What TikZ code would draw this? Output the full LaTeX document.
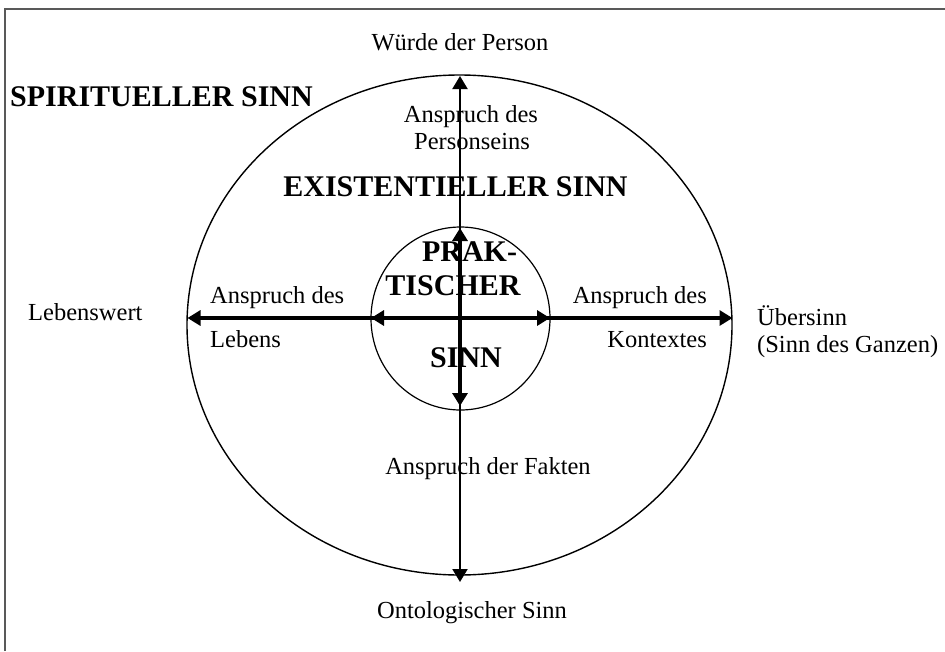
\documentclass[tikz,border=0pt]{standalone}
\usepackage{fontspec}
\setmainfont{Liberation Serif}
\usetikzlibrary{arrows.meta,shapes.geometric}
\begin{document}
\begin{tikzpicture}[x=1pt,y=-1pt,
  lbl/.style={font=\fontsize{24.5}{28}\selectfont, inner sep=0pt},
  big/.style={font=\fontsize{30}{34}\selectfont\bfseries, inner sep=0pt},
  tri/.tip={Triangle[length=13pt,width=15pt]},
  dbl/.style={{tri}-{tri}, line width=#1},
  ring/.style={draw, ellipse, inner sep=0pt, line width=1.4pt}]
\useasboundingbox (0,0) rectangle (945,651);
\draw[black!65, line width=1.3pt] (5,651) -- (5,9) -- (945,9);

\node[ring, minimum width=545pt, minimum height=500pt] (outer) at (459.5,325) {};
\node[ring, minimum width=179pt, minimum height=183pt, line width=1.2pt] (inner) at (460.5,318.5) {};

\coordinate (T) at (460,76);
\coordinate (B) at (460,582);
\coordinate (L) at (187.5,318);
\coordinate (R) at (732.5,318);
\coordinate (iT) at (460,228);
\coordinate (iB) at (460,406);
\coordinate (iL) at (371,318);
\coordinate (iR) at (550,318);

\draw[dbl=2pt] (T) -- (B);
\draw[dbl=3.2pt] (L) -- (R);
\draw[dbl=3.4pt] (iT) -- (iB);
\draw[dbl=3.4pt] (iL) -- (iR);

\node[lbl, anchor=base] (wuerde) at (460,50) {Würde der Person};
\node[big, anchor=base west] (spir) at (10,106) {SPIRITUELLER SINN};
\node[lbl, anchor=base] (ap1) at (471,122) {Anspruch des};
\node[lbl, anchor=base] (ap2) at (472,149) {Personseins};
\node[big, anchor=base] (exist) at (455.5,196) {EXISTENTIELLER SINN};
\node[big, anchor=base] (prak1) at (469.5,261) {PRAK-};
\node[big, anchor=base] (prak2) at (453,295) {TISCHER};
\node[big, anchor=base] (prak3) at (466,367) {SINN};
\node[lbl, anchor=base west] (al1) at (210,303) {Anspruch des};
\node[lbl, anchor=base west] (al2) at (210,347) {Lebens};
\node[lbl, anchor=base east] (ar1) at (707,303) {Anspruch des};
\node[lbl, anchor=base east] (ar2) at (707,347) {Kontextes};
\node[lbl, anchor=base west] (ueb1) at (757,325) {Übersinn};
\node[lbl, anchor=base west] (ueb2) at (757,352) {(Sinn des Ganzen)};
\node[lbl, anchor=base west] (lw) at (28,320) {Lebenswert};
\node[lbl, anchor=base] (fakt) at (488,474) {Anspruch der Fakten};
\node[lbl, anchor=base] (onto) at (472,618) {Ontologischer Sinn};
\end{tikzpicture}
\end{document}
